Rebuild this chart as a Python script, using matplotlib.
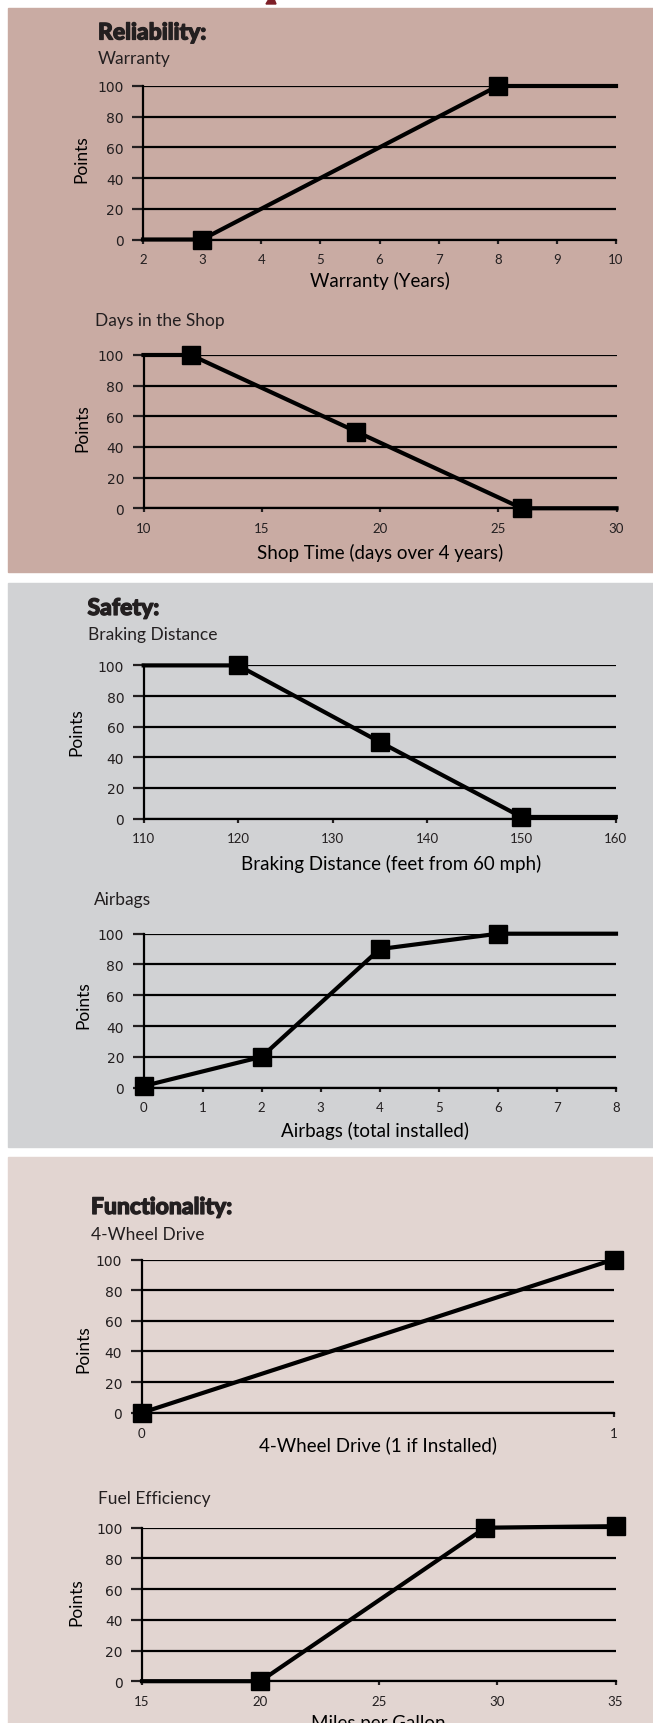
import matplotlib
matplotlib.use('Agg')
import matplotlib.pyplot as plt
import matplotlib.patheffects as pe
from matplotlib.patches import Rectangle, Polygon

W, H = 653, 1724
INK = '#231f20'

# ---- data ----
warranty_x = [2, 3, 8, 10]
warranty_y = [0, 0, 100, 100]
warranty_ticks = [2, 3, 4, 5, 6, 7, 8, 9, 10]

shop_x = [10, 12, 19, 26, 30]
shop_y = [100, 100, 50, 0, 0]
shop_ticks = [10, 15, 20, 25, 30]

brake_x = [110, 120, 135, 150, 160]
brake_y = [100, 100, 50, 1, 1]
brake_ticks = [110, 120, 130, 140, 150, 160]

airbag_x = [0, 2, 4, 6, 8]
airbag_y = [1, 20, 90, 100, 100]
airbag_ticks = [0, 1, 2, 3, 4, 5, 6, 7, 8]

awd_x = [0, 1]
awd_y = [0, 100]
awd_ticks = [0, 1]

mpg_x = [15, 20, 29.5, 35]
mpg_y = [0, 0, 100, 101]
mpg_ticks = [15, 20, 25, 30, 35]

points_ticks = [0, 20, 40, 60, 80, 100]

plt.rcParams['font.family'] = ['Lato', 'DejaVu Sans']
plt.rcParams['text.color'] = INK

fig = plt.figure(figsize=(W / 100, H / 100), dpi=100)
fig.patch.set_facecolor('white')


def fx(x):
    return x / W


def fy(y):
    return 1 - y / H


# background panels
for top, bottom, color in [(9, 573, '#c9aba3'), (584, 1148, '#d1d2d4'), (1158, H, '#e2d5d1')]:
    fig.add_artist(Rectangle((fx(8), fy(bottom)), 1 - fx(8), (bottom - top) / H,
                             transform=fig.transFigure, color=color, zorder=0))

# bit of a cut-off heading above the first panel
fig.add_artist(Polygon([(fx(266), fy(5)), (fx(276), fy(5)), (fx(274), fy(0)), (fx(269), fy(0))],
                       closed=True, transform=fig.transFigure, color='#7d1f27', zorder=1))

heavy = [pe.withStroke(linewidth=0.9, foreground=INK)]


def heading(x, y, s):
    fig.text(fx(x), fy(y), s, fontsize=16.5, fontweight='black', va='baseline',
             path_effects=heavy)


def chart(box, xs, ys, marks, xticks, xlabel, label_base, xlab_x=0.5, ylab=(80, 0.5)):
    left, top, right, bottom = box
    w = right - left
    h = bottom - top
    ax = fig.add_axes([fx(left), fy(bottom), w / W, h / H])
    ax.set_facecolor('none')
    ax.set_xlim(xticks[0], xticks[-1])
    ax.set_ylim(0, 100)
    ax.set_xticks(xticks)
    ax.set_yticks(points_ticks)
    ax.grid(axis='y', color='black', lw=1.6)
    ax.set_axisbelow(True)
    for s in ['top', 'right']:
        ax.spines[s].set_visible(False)
    for s in ['left', 'bottom']:
        ax.spines[s].set_linewidth(1.6)
        ax.spines[s].set_color('black')
    ax.tick_params(axis='y', length=8, width=1.6, pad=6, labelsize=10, colors=INK)
    ax.tick_params(axis='x', length=3, width=1.6, pad=7, labelsize=9.5, colors=INK)
    for lbl in ax.get_yticklabels():
        lbl.set_fontfamily('DejaVu Sans')

    ax.plot(xs, ys, color='black', lw=3, marker='s', ms=13, mew=1,
            markevery=marks, clip_on=False, zorder=5)

    ax.set_xlabel(xlabel, fontsize=13.5, va='baseline')
    ax.xaxis.set_label_coords(xlab_x, -(label_base - bottom) / h)
    ax.set_ylabel('Points', fontsize=12.5, va='center')
    ax.yaxis.set_label_coords((ylab[0] - left) / w, ylab[1])
    return ax


# Reliability
heading(98, 40.5, 'Reliability:')
fig.text(fx(98), fy(64), 'Warranty', fontsize=12.5, va='baseline')
chart((143, 87, 616, 240.5), warranty_x, warranty_y, [1, 2], warranty_ticks,
      'Warranty (Years)', 287, ylab=(81, 0.53))

fig.text(fx(95), fy(326), 'Days in the Shop', fontsize=12.5, va='baseline')
chart((143.5, 356, 616.5, 509.3), shop_x, shop_y, [1, 2, 3], shop_ticks,
      'Shop Time (days over 4 years)', 559, ylab=(82, 0.53))

# Safety
heading(87.5, 616, 'Safety:')
fig.text(fx(87.5), fy(640), 'Braking Distance', fontsize=12.5, va='baseline')
chart((143.7, 666.4, 615.8, 819.5), brake_x, brake_y, [1, 2, 3], brake_ticks,
      'Braking Distance (feet from 60 mph)', 870, xlab_x=0.524, ylab=(76, 0.57))

fig.text(fx(93.5), fy(905), 'Airbags', fontsize=12.5, va='baseline')
chart((143.5, 934.7, 616, 1088.6), airbag_x, airbag_y, [0, 1, 2, 3], airbag_ticks,
      'Airbags (total installed)', 1137, xlab_x=0.489, ylab=(83.5, 0.54))

# Functionality
heading(91, 1215, 'Functionality:')
fig.text(fx(91), fy(1240), '4-Wheel Drive', fontsize=12.5, va='baseline')
chart((141.7, 1260.5, 613.7, 1413.8), awd_x, awd_y, [0, 1], awd_ticks,
      '4-Wheel Drive (1 if Installed)', 1451, ylab=(83.5, 0.42))

fig.text(fx(98), fy(1504), 'Fuel Efficiency', fontsize=12.5, va='baseline')
# axis title sits partly below the bottom edge, as in the reference
chart((142, 1528.7, 615.5, 1682.2), mpg_x, mpg_y, [1, 2, 3], mpg_ticks,
      'Miles per Gallon', 1729, ylab=(76.7, 0.52))

fig.savefig('out.png', dpi=100, facecolor='white')
